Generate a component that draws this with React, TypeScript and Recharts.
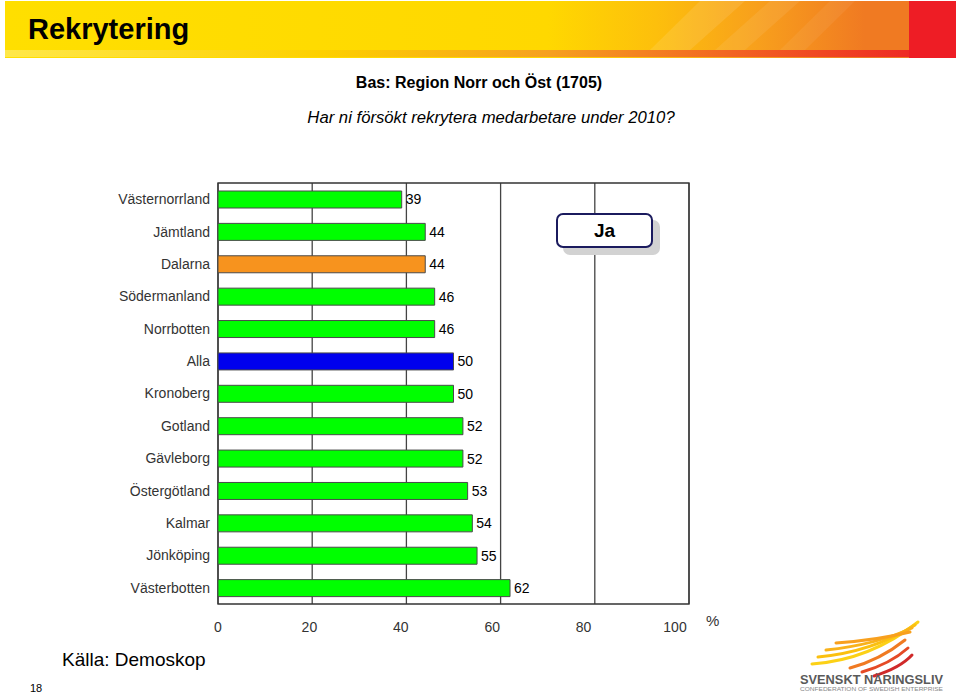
import React from "react"
import { BarChart, Bar, XAxis, YAxis, CartesianGrid, Cell, LabelList, ReferenceArea } from "recharts"

const regions = [
  "Västernorrland",
  "Jämtland",
  "Dalarna",
  "Södermanland",
  "Norrbotten",
  "Alla",
  "Kronoberg",
  "Gotland",
  "Gävleborg",
  "Östergötland",
  "Kalmar",
  "Jönköping",
  "Västerbotten",
]
const jaValues = [39, 44, 44, 46, 46, 50, 50, 52, 52, 53, 54, 55, 62]
const xTicks = [0, 20, 40, 60, 80, 100]

const GREEN = "#00ff00"
const barColor = (name: string) => (name === "Dalarna" ? "#f7931e" : name === "Alla" ? "#0000ee" : GREEN)

const data = regions.map((name, i) => ({ name, value: jaValues[i] }))

const font = "'Liberation Sans', Arial, sans-serif"

function XTick(props: any) {
  const { x, y, payload } = props
  // the source's labels drift a little left of their gridlines
  const dx = -(payload.value / 100) * 14
  return (
    <text x={x + dx} y={y + 20} textAnchor="middle" fontSize={14} fill="#333" fontFamily={font}>
      {payload.value}
    </text>
  )
}

function Header() {
  return (
    <g>
      <defs>
        <linearGradient id="band" x1="0" y1="0" x2="1" y2="0">
          <stop offset="0" stopColor="#ffdf00" />
          <stop offset="0.6" stopColor="#ffd800" />
          <stop offset="0.72" stopColor="#fdbf0c" />
          <stop offset="0.83" stopColor="#f8a01c" />
          <stop offset="0.95" stopColor="#f07a22" />
        </linearGradient>
        <linearGradient id="stripe" x1="0" y1="0" x2="1" y2="0">
          <stop offset="0" stopColor="#ffe84a" />
          <stop offset="0.35" stopColor="#fdd000" />
          <stop offset="0.6" stopColor="#f6a020" />
          <stop offset="1" stopColor="#ee2a24" />
        </linearGradient>
      </defs>
      <rect x={5} y={1} width={905} height={57} fill="url(#band)" />
      <polygon points="700,1 745,1 690,50 650,50" fill="#ffffff" opacity={0.1} />
      <polygon points="770,1 800,1 745,50 715,50" fill="#ffffff" opacity={0.08} />
      <polygon points="830,1 855,1 805,50 780,50" fill="#ffffff" opacity={0.06} />
      <rect x={5} y={50} width={905} height={7} fill="url(#stripe)" />
      <rect x={909} y={1} width={47} height={57} fill="#ee1d25" />
      <text x={28} y={39} fontSize={29} fontWeight="bold" fill="#000" fontFamily={font}>
        Rekrytering
      </text>
    </g>
  )
}

function Logo() {
  const strokes = [
    { d: "M812,664 Q870,660 918,622", c: "#fcd116" },
    { d: "M818,657 Q872,652 915,625", c: "#fbc010" },
    { d: "M826,650 Q875,645 912,628", c: "#f9b21a" },
    { d: "M836,643 Q878,640 910,632", c: "#f8a01e" },
    { d: "M850,668 Q880,660 905,640", c: "#f07a22" },
    { d: "M862,672 Q890,664 908,648", c: "#e54a26" },
    { d: "M874,676 Q900,668 912,655", c: "#d02a2a" },
  ]
  return (
    <g>
      {strokes.map((s, i) => (
        <path key={i} d={s.d} stroke={s.c} strokeWidth={3} fill="none" strokeLinecap="round" />
      ))}
      <text x={800} y={684} fontSize={13} fontWeight="bold" fill="#5a5a5a" fontFamily={font} textLength={143} lengthAdjust="spacingAndGlyphs">
        SVENSKT NÄRINGSLIV
      </text>
      <text x={800} y={691} fontSize={5} fill="#888" fontFamily={font} textLength={143} lengthAdjust="spacingAndGlyphs">
        CONFEDERATION OF SWEDISH ENTERPRISE
      </text>
    </g>
  )
}

export default function App() {
  return (
    <div style={{ position: "absolute", left: 0, top: 0, width: 960, height: 693, background: "#fff", overflow: "hidden" }}>
      <BarChart
        width={960}
        height={693}
        data={data}
        layout="vertical"
        margin={{ top: 183, right: 271, bottom: 59, left: 0 }}
        barSize={17}
      >
        <CartesianGrid horizontal={false} vertical stroke="#444" strokeWidth={1.3} />
        <XAxis
          type="number"
          domain={[0, 100]}
          ticks={xTicks}
          axisLine={false}
          tickLine={false}
          height={30}
          tick={<XTick />}
          interval={0}
        />
        <YAxis
          type="category"
          dataKey="name"
          width={218}
          axisLine={false}
          tickLine={false}
          tick={{ fontSize: 14, fill: "#333", fontFamily: font }}
          interval={0}
        />
        <ReferenceArea x1={0} x2={100} fill="none" stroke="#333" strokeWidth={1.3} ifOverflow="extendDomain" />
        <Bar dataKey="value" stroke="#4a4a4a" strokeWidth={1} isAnimationActive={false}>
          {data.map((d) => (
            <Cell key={d.name} fill={barColor(d.name)} />
          ))}
          <LabelList dataKey="value" position="right" offset={4} fill="#000" fontSize={14} fontFamily={font} />
        </Bar>
      </BarChart>

      <svg width={960} height={693} style={{ position: "absolute", left: 0, top: 0, pointerEvents: "none" }}>
        <Header />
        <text x={479} y={88} textAnchor="middle" fontSize={16} fontWeight="bold" fill="#000" fontFamily={font}>
          Bas: Region Norr och Öst (1705)
        </text>
        <text x={491} y={123} textAnchor="middle" fontSize={16.7} fontStyle="italic" fill="#000" fontFamily={font}>
          Har ni försökt rekrytera medarbetare under 2010?
        </text>
        <text x={706} y={626} fontSize={15} fill="#333" fontFamily={font}>
          %
        </text>
        <text x={62} y={666} fontSize={19} fill="#000" fontFamily={font}>
          Källa: Demoskop
        </text>
        <text x={30} y={692} fontSize={11} fill="#000" fontFamily={font}>
          18
        </text>
        <Logo />
      </svg>

      <div
        style={{
          position: "absolute",
          left: 556,
          top: 213,
          width: 93,
          height: 31,
          border: "2px solid #1b1b5e",
          borderRadius: 7,
          background: "#fff",
          boxShadow: "7px 7px 0 #d2d2d2",
          display: "flex",
          alignItems: "center",
          justifyContent: "center",
          fontFamily: font,
          fontWeight: "bold",
          fontSize: 19,
          color: "#000",
        }}
      >
        Ja
      </div>
    </div>
  )
}
